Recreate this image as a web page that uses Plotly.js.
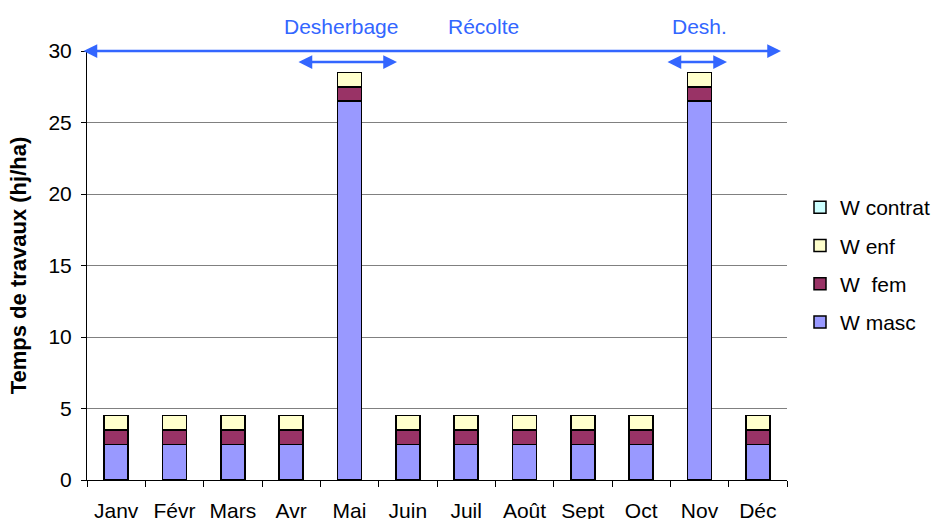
<!DOCTYPE html>
<html><head><meta charset="utf-8">
<script src="https://cdn.plot.ly/plotly-3.0.1.min.js"></script>
<style>body{margin:0;background:#fff}#c{width:935px;height:519px}</style>
</head><body><div id="c"></div>
<script>
const months = ["Janv","Févr","Mars","Avr","Mai","Juin","Juil","Août","Sept","Oct","Nov","Déc"];
const wMasc    = [2.5,2.5,2.5,2.5,26.5,2.5,2.5,2.5,2.5,2.5,26.5,2.5];
const wFem     = [1,1,1,1,1,1,1,1,1,1,1,1];
const wEnf     = [1,1,1,1,1,1,1,1,1,1,1,1];
const wContrat = [0,0,0,0,0,0,0,0,0,0,0,0];
const seriesNames = ["W masc","W\u00a0 fem","W enf","W contrat"];
const seriesColors = ["#9999FF","#993366","#FFFFCC","#CCFFFF"];
const seriesData = [wMasc,wFem,wEnf,wContrat];

const traces = seriesData.map((d,i)=>({
  type:"bar", x:months, y:d, name:seriesNames[i], legendgroup:"g"+i, legendrank:1000-i,
  marker:{color:seriesColors[i], line:{color:"#000", width:1.5}}
}));

const F = "Liberation Sans, Arial, sans-serif";
const FS = 21;
const blue = "#3366FF";
// plot area: left 87, right 787, top 51, bottom 480
const px = v => (v-87)/700;
const py = v => (480-v)/429;
function arrow(x0,x1,y){
  return {xref:"paper",yref:"paper",x:px(x1),y:py(y),ax:-(x1-x0),ay:0,axref:"pixel",ayref:"pixel",
    text:"",showarrow:true,arrowside:"end+start",arrowhead:2,arrowsize:1.1,arrowwidth:2.5,arrowcolor:blue,standoff:0,startstandoff:0};
}
function label(t,x,y){
  return {xref:"paper",yref:"paper",x:px(x),y:py(y),text:t,showarrow:false,font:{family:F,size:FS,color:blue},xanchor:"center",yanchor:"middle"};
}
const layout = {
  width:935,height:519,
  margin:{l:87,r:148,t:51,b:39,autoexpand:false},
  paper_bgcolor:"#fff",plot_bgcolor:"#fff",
  barmode:"stack",bargap:0.59,
  font:{family:F,size:FS,color:"#000"},
  xaxis:{type:"category",tickson:"boundaries",ticks:"outside",ticklen:6,tickcolor:"#000",
    showline:true,linecolor:"#000",linewidth:1,showgrid:false,ticklabelstandoff:12,
    tickfont:{family:F,size:FS}},
  yaxis:{range:[0,30],dtick:5,ticks:"outside",ticklen:5,tickcolor:"#000",
    showline:true,linecolor:"#000",linewidth:1,showgrid:true,gridcolor:"#808080",gridwidth:1,
    zeroline:false,tickfont:{family:F,size:FS},ticklabelstandoff:5,
    title:{text:"<b>Temps de travaux (hj/ha)</b>",font:{family:F,size:22},standoff:15}},
  legend:{x:px(810),y:py(265),xanchor:"left",yanchor:"middle",traceorder:"grouped",
    font:{family:F,size:FS},tracegroupgap:8,itemwidth:30,bgcolor:"rgba(0,0,0,0)",
    valign:"middle",indentation:-10},
  annotations:[
    arrow(82,781,51),
    arrow(297,397,62),
    arrow(666,727,62),
    label("Desherbage",341,27),
    label("Récolte",483,27),
    label("Desh.",699,27)
  ]
};
Plotly.newPlot("c",traces,layout,{displayModeBar:false,staticPlot:true});
</script></body></html>
